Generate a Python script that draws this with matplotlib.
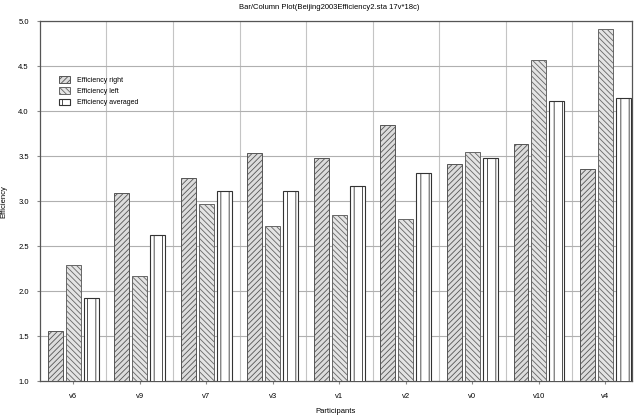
import matplotlib
matplotlib.use("Agg")
import matplotlib.pyplot as plt
import numpy as np

participants = ["v6", "v9", "v7", "v3", "v1", "v2", "v0", "v10", "v4"]
eff_right = [1.56, 3.09, 3.26, 3.54, 3.48, 3.85, 3.42, 3.64, 3.36]
eff_left = [2.29, 2.17, 2.97, 2.73, 2.85, 2.80, 3.55, 4.57, 4.91]
eff_avg = [1.93, 2.63, 3.11, 3.12, 3.17, 3.32, 3.48, 4.11, 4.15]
series_names = ["Efficiency right", "Efficiency left", "Efficiency averaged"]

plt.rcParams['hatch.linewidth'] = 0.6
plt.rcParams['hatch.color'] = '#555555'
plt.rcParams['font.family'] = ['Liberation Sans', 'DejaVu Sans']

fig = plt.figure(figsize=(6.34, 4.16), dpi=100)
ax = fig.add_axes([0.063, 0.083, 0.934, 0.866])

x = np.arange(len(participants))
w = 0.225
off = 0.27
ax.bar(x - off, eff_right, w, color='#dcdcdc', edgecolor='#555555',
       linewidth=0.7, hatch='//////', label=series_names[0], zorder=3)
ax.bar(x, eff_left, w, color='#e4e4e4', edgecolor='#666666',
       linewidth=0.7, hatch='\\\\\\\\\\\\', label=series_names[1], zorder=3)
ax.bar(x + off, eff_avg, w, color='white', edgecolor='#333333',
       linewidth=0.8, hatch='||', label=series_names[2], zorder=3)

ax.set_ylim(1.0, 5.0)
ax.set_xlim(-0.5, 8.4)
ax.set_yticks(np.arange(1.0, 5.01, 0.5))
ax.set_yticklabels([f"{v:.1f}" for v in np.arange(1.0, 5.01, 0.5)])
ax.set_xticks(x)
ax.set_xticklabels(participants)
ax.set_xticks(np.arange(0.5, 8.4, 1.0), minor=True)
ax.grid(True, axis='y', color='#b0b0b0', linewidth=0.8, zorder=0)
ax.grid(True, axis='x', which='minor', color='#c4c4c4', linewidth=0.8, zorder=0)
ax.tick_params(axis='both', which='major', labelsize=5.5, length=2, color='#888888', pad=6)
ax.tick_params(axis='x', which='minor', length=0)
for s in ax.spines.values():
    s.set_color('#555555')
    s.set_linewidth(0.9)

ax.set_xlabel("Participants", fontsize=5.5, labelpad=6)
ax.set_ylabel("Efficiency", fontsize=5.5, labelpad=8)
fig.text(0.52, 0.982, "Bar/Column Plot(Beijing2003Efficiency2.sta 17v*18c)",
         ha='center', va='center', fontsize=5.5)

leg = ax.legend(loc='upper left', bbox_to_anchor=(0.028, 0.855), fontsize=5,
                frameon=False, handlelength=1.6, handleheight=1.1,
                labelspacing=0.5, handletextpad=0.9, borderaxespad=0)

fig.savefig("out.png", dpi=100)
